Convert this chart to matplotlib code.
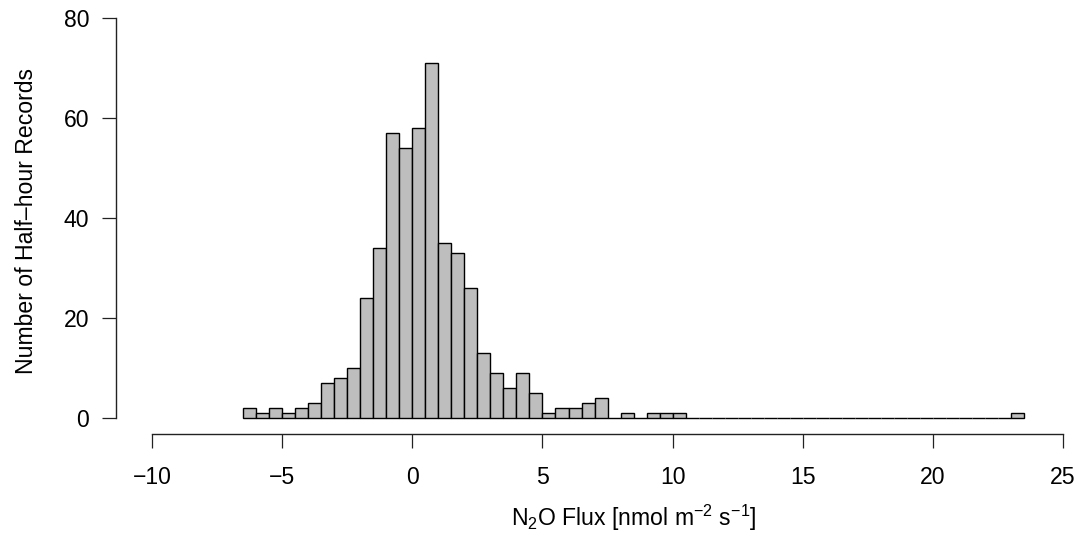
import matplotlib
matplotlib.use("Agg")
import matplotlib.pyplot as plt
import numpy as np

plt.rcParams['font.family'] = ['Liberation Sans', 'DejaVu Sans']
plt.rcParams['mathtext.fontset'] = 'custom'
plt.rcParams['mathtext.rm'] = 'Liberation Sans'
plt.rcParams['mathtext.it'] = 'Liberation Sans:italic'

# histogram: left bin edges (width 0.5) and counts
bin_left = np.arange(-6.5, 23.5, 0.5)
counts = np.zeros(len(bin_left))
known = {
    -6.5: 2, -6.0: 1, -5.5: 2, -5.0: 1, -4.5: 2, -4.0: 3, -3.5: 7, -3.0: 8,
    -2.5: 10, -2.0: 24, -1.5: 34, -1.0: 57, -0.5: 54, 0.0: 58, 0.5: 71,
    1.0: 35, 1.5: 33, 2.0: 26, 2.5: 13, 3.0: 9, 3.5: 6, 4.0: 9, 4.5: 5,
    5.0: 1, 5.5: 2, 6.0: 2, 6.5: 3, 7.0: 4, 8.0: 1, 9.0: 1, 9.5: 1,
    10.0: 1, 23.0: 1,
}
for edge, c in known.items():
    counts[np.isclose(bin_left, edge)] = c

x_ticks = [-10, -5, 0, 5, 10, 15, 20, 25]
y_ticks = [0, 20, 40, 60, 80]

W, H = 1078, 545
fig = plt.figure(figsize=(W / 100, H / 100), dpi=100)
# plot region in pixels (R style, 4% extended limits)
left_px, right_px, top_px, bottom_px = 115.6, 1099.5, 2.0, 433.6
ax = fig.add_axes([left_px / W, 1 - bottom_px / H,
                   (right_px - left_px) / W, (bottom_px - top_px) / H])

ax.bar(bin_left, counts, width=0.5, align='edge', color='#BEBEBE',
       edgecolor='black', linewidth=1.0)

ax.set_xlim(-11.4, 26.4)
ax.set_ylim(-3.2, 83.2)

for s in ['top', 'right']:
    ax.spines[s].set_visible(False)
ax.spines['left'].set_bounds(0, 80)
ax.spines['bottom'].set_bounds(-10, 25)
for s in ['left', 'bottom']:
    ax.spines[s].set_linewidth(1.0)
    ax.spines[s].set_color('#222222')

# y label, sized so it spans ~307 px like the reference
ylab = fig.text(27 / W, 1 - 221.5 / H, 'Number of Half\u2013hour Records',
                ha='center', va='center', rotation=90, fontsize=15)
r = fig.canvas.get_renderer()
h = ylab.get_window_extent(r).height
fs = 15 * 307 / h
ylab.set_fontsize(fs)

ax.set_xticks(x_ticks)
ax.set_yticks(y_ticks)
ax.tick_params(axis='both', direction='out', length=10, width=0.9,
               colors='#222222', labelsize=fs, labelcolor='black')
ax.tick_params(axis='x', pad=13)
ax.tick_params(axis='y', pad=9)

fig.text(634 / W, 1 - 518 / H, 'N$_2$O Flux [nmol m$^{-2}$ s$^{-1}$]',
         ha='center', va='center', fontsize=fs)

fig.savefig('out.png', dpi=100)
